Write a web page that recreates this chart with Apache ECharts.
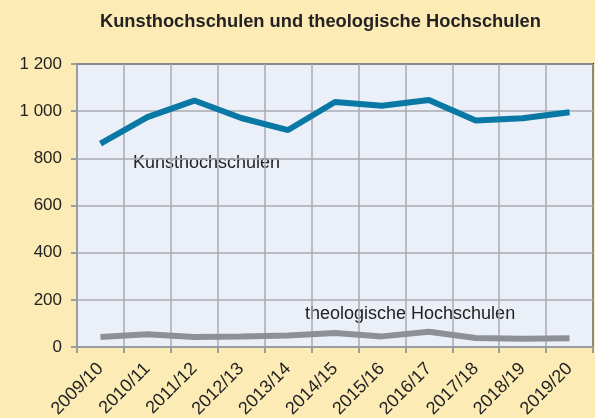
<!DOCTYPE html>
<html><head><meta charset="utf-8">
<script src="https://cdn.jsdelivr.net/npm/echarts@6/dist/echarts.min.js"></script>
<style>html,body{margin:0;padding:0;background:#fdebb6;}#c{width:595px;height:418px;}</style>
</head><body><div id="c"></div>
<script>
const categories = ['2009/10','2010/11','2011/12','2012/13','2013/14','2014/15','2015/16','2016/17','2017/18','2018/19','2019/20'];
const kunst = [862, 975, 1045, 971, 920, 1039, 1023, 1047, 960, 970, 995];
const theol = [42, 54, 42, 44, 49, 59, 45, 65, 38, 35, 37];
const seriesNames = ['Kunsthochschulen', 'theologische Hochschulen'];
const titleText = 'Kunsthochschulen und theologische Hochschulen';

const chart = echarts.init(document.getElementById('c'));
chart.setOption({
  backgroundColor: '#fdebb6',
  animation: false,
  title: { text: titleText, left: 95, top: 8,
    textStyle: { fontFamily: 'Liberation Sans, Arial', fontSize: 18.3, fontWeight: 'bold', color: '#222' } },
  grid: { left: 77, right: 2, top: 64, bottom: 71, show: true, outerBoundsMode: 'none', containLabel: false,
    backgroundColor: '#ebf0f8', borderColor: '#222', borderWidth: 2 },
  xAxis: {
    type: 'category', data: categories, boundaryGap: true,
    axisLine: { lineStyle: { color: '#999ca1', width: 2 } },
    axisTick: { show: true, length: 6, lineStyle: { color: '#999ca1', width: 2 } },
    splitLine: { show: true, interval: 0, lineStyle: { color: '#a8abb0', width: 1.5 } },
    axisLabel: { interval: 0, rotate: 45, margin: 19, fontFamily: 'Liberation Sans, Arial', fontSize: 18, color: '#222' }
  },
  yAxis: {
    type: 'value', min: 0, max: 1200, interval: 200,
    axisLine: { show: true, lineStyle: { color: '#999ca1', width: 2 } },
    axisTick: { show: true, length: 6, lineStyle: { color: '#999ca1', width: 2 } },
    splitLine: { lineStyle: { color: '#a8abb0', width: 1.5 } },
    axisLabel: { margin: 15, fontFamily: 'Liberation Sans, Arial', fontSize: 17, color: '#222',
      formatter: v => v >= 1000 ? Math.floor(v/1000) + ' ' + String(v%1000).padStart(3,'0') : String(v) }
  },
  series: [
    { name: seriesNames[0], type: 'line', data: kunst, symbol: 'none', lineStyle: { color: '#0a78a5', width: 6 } },
    { name: seriesNames[1], type: 'line', data: theol, symbol: 'none', lineStyle: { color: '#8e9095', width: 6 } }
  ],
  graphic: [
    { type: 'text', left: 133, top: 154, style: { text: seriesNames[0], fontFamily: 'Liberation Sans, Arial', fontSize: 18, fill: '#222' } },
    { type: 'text', left: 305, top: 305, style: { text: seriesNames[1], fontFamily: 'Liberation Sans, Arial', fontSize: 18, fill: '#222' } }
  ]
});
</script></body></html>
